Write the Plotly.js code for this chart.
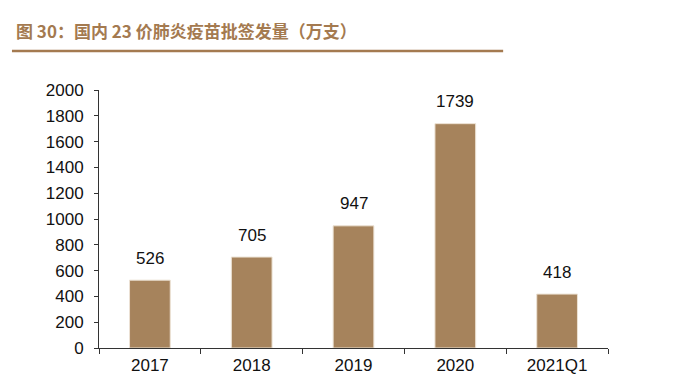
<!DOCTYPE html>
<html>
<head>
<meta charset="utf-8">
<script src="https://cdn.plot.ly/plotly-3.0.1.min.js"></script>
<style>html,body{margin:0;padding:0;background:#fff;}#chart{width:675px;height:376px;}</style>
</head>
<body>
<div id="chart"></div>
<script>
const categories = ["2017", "2018", "2019", "2020", "2021Q1"];
const values = [526, 705, 947, 1739, 418];
const yTicks = [0, 200, 400, 600, 800, 1000, 1200, 1400, 1600, 1800, 2000];
const titleText = "图 30：国内 23 价肺炎疫苗批签发量（万支）";

const barColor = "rgb(166,131,92)";
const titleColor = "rgb(164,122,80)";
const tickFont = {family: "Liberation Sans, Arial, sans-serif", size: 17, color: "#111"};

const trace = {
  type: "bar",
  x: categories,
  y: values,
  marker: {color: barColor, line: {color: "rgb(236,226,212)", width: 1}},
  hoverinfo: "none"
};

const annotations = categories.map((c, i) => ({
  x: i, y: values[i], xref: "x", yref: "y",
  text: String(values[i]), showarrow: false,
  yanchor: "middle", yshift: 22,
  font: tickFont
}));
annotations.push({
  xref: "paper", yref: "paper", x: -0.167, y: 1.232,
  xanchor: "left", yanchor: "middle", showarrow: false,
  text: "<b>" + titleText + "</b>",
  font: {family: "Noto Sans CJK SC, sans-serif", size: 17, color: titleColor}
});

const layout = {
  width: 675, height: 376,
  margin: {l: 99, r: 67, t: 90, b: 28},
  paper_bgcolor: "#fff", plot_bgcolor: "#fff",
  showlegend: false,
  bargap: 0.6,
  xaxis: {
    type: "category", range: [-0.5, 4.5],
    showline: true, linecolor: "#333", linewidth: 1,
    ticks: "outside", tickson: "boundaries", ticklen: 5, tickcolor: "#333",
    ticklabelstandoff: 2,
    showgrid: false, zeroline: false,
    tickfont: tickFont
  },
  yaxis: {
    range: [0, 2000], tickvals: yTicks, ticktext: yTicks.map(String),
    showline: true, linecolor: "#333", linewidth: 1,
    ticks: "outside", ticklen: 4, tickcolor: "#333",
    ticklabelstandoff: 7,
    showgrid: false, zeroline: false,
    tickfont: tickFont
  },
  annotations: annotations,
  shapes: [{
    type: "line", xref: "paper", yref: "paper",
    x0: -0.171, x1: 0.794, y0: 1.151, y1: 1.151,
    line: {color: titleColor, width: 2.5}
  }]
};

Plotly.newPlot("chart", [trace], layout, {staticPlot: true, displayModeBar: false});
</script>
</body>
</html>
